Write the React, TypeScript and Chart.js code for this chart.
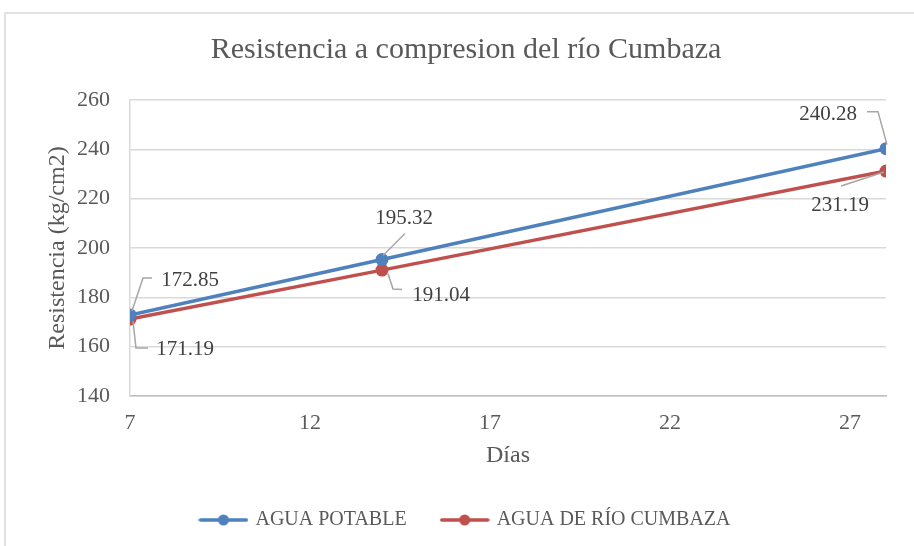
import React, { useEffect, useRef } from 'react';
import { Chart, registerables } from 'chart.js';

Chart.register(...registerables);

const days = [7, 14, 28];
const aguaPotable = [172.85, 195.32, 240.28];
const aguaRio = [171.19, 191.04, 231.19];
const xTicks = [7, 12, 17, 22, 27];
const yMin = 140;
const yMax = 260;
const yStep = 20;
const xMin = 7;
const xMax = 28;
const seriesNames = ['AGUA POTABLE', 'AGUA DE RÍO CUMBAZA'];
const chartTitle = 'Resistencia a compresion del río Cumbaza';
const xTitle = 'Días';
const yTitle = 'Resistencia (kg/cm2)';

const SERIF = "'Liberation Serif', 'Times New Roman', serif";
const BLUE = '#4F81BD';
const RED = '#C0504D';
const GRAY_TEXT = '#595959';

// data label layout (text centre offset and leader path, relative to each point)
const labelLayout = [
  [
    { dx: 60, dy: -34, path: [[2, -4], [13, -37], [22, -37]] },
    { dx: 22, dy: -41, path: [[1, -4], [23, -26]] },
    { dx: -58, dy: -34, path: [[1, -4], [-8, -37], [-19, -37]] },
  ],
  [
    { dx: 55, dy: 30, path: [[3, 2], [6, 29], [18, 29]] },
    { dx: 59, dy: 25, path: [[6, 3.5], [11, 19], [20, 19.5]] },
    { dx: -46, dy: 34, path: [[-2, 1], [-45, 15]] },
  ],
];

function makeMarker(color: string) {
  const c = document.createElement('canvas');
  c.width = 50;
  c.height = 14;
  const ctx = c.getContext('2d')!;
  ctx.strokeStyle = color;
  ctx.lineWidth = 3.5;
  ctx.lineCap = 'round';
  ctx.beginPath();
  ctx.moveTo(2, 7);
  ctx.lineTo(48, 7);
  ctx.stroke();
  ctx.fillStyle = color;
  ctx.beginPath();
  ctx.arc(25, 7, 5.5, 0, Math.PI * 2);
  ctx.fill();
  return c;
}

const framePlugin = {
  id: 'frame',
  beforeDraw(chart: any) {
    const { ctx, width, height } = chart;
    ctx.save();
    ctx.fillStyle = '#ffffff';
    ctx.fillRect(0, 0, width, height);
    ctx.strokeStyle = '#d9d9d9';
    ctx.lineWidth = 1.5;
    ctx.beginPath();
    ctx.moveTo(5, height);
    ctx.lineTo(5, 13);
    ctx.lineTo(width, 13);
    ctx.stroke();
    ctx.restore();
  },
};

const dataLabelPlugin = {
  id: 'dataLabels',
  afterDatasetsDraw(chart: any) {
    const { ctx } = chart;
    ctx.save();
    chart.data.datasets.forEach((ds: any, di: number) => {
      const meta = chart.getDatasetMeta(di);
      meta.data.forEach((pt: any, i: number) => {
        const lay = labelLayout[di][i];
        const x = pt.x;
        const y = pt.y;
        ctx.strokeStyle = '#a6a6a6';
        ctx.lineWidth = 1.5;
        ctx.beginPath();
        lay.path.forEach((p: number[], k: number) => {
          if (k === 0) ctx.moveTo(x + p[0], y + p[1]);
          else ctx.lineTo(x + p[0], y + p[1]);
        });
        ctx.stroke();
        ctx.fillStyle = '#404040';
        ctx.font = `21px ${SERIF}`;
        ctx.textAlign = 'center';
        ctx.textBaseline = 'middle';
        ctx.fillText(ds.data[i].y.toFixed(2), x + lay.dx, y + lay.dy);
      });
    });
    ctx.restore();
  },
};

export default function App() {
  const ref = useRef<HTMLCanvasElement | null>(null);

  useEffect(() => {
    document.body.style.margin = '0';
    const canvas = ref.current;
    if (!canvas) return;
    const mk = (vals: number[]) => days.map((d, i) => ({ x: d, y: vals[i] }));
    const chart = new Chart(canvas, {
      type: 'line',
      data: {
        datasets: [
          {
            label: seriesNames[0],
            data: mk(aguaPotable),
            borderColor: BLUE,
            backgroundColor: BLUE,
            borderWidth: 3.5,
            pointRadius: 6.5,
            pointBorderWidth: 0,
            pointBackgroundColor: BLUE,
            tension: 0,
          },
          {
            label: seriesNames[1],
            data: mk(aguaRio),
            borderColor: RED,
            backgroundColor: RED,
            borderWidth: 3.5,
            pointRadius: 6.5,
            pointBorderWidth: 0,
            pointBackgroundColor: RED,
            tension: 0,
          },
        ],
      },
      options: {
        responsive: false,
        animation: false,
        layout: { padding: { left: 18, right: 0, top: 0, bottom: 6 } },
        plugins: {
          title: {
            display: true,
            text: chartTitle,
            color: GRAY_TEXT,
            font: { family: SERIF, size: 30, weight: 'normal', lineHeight: 1.2 },
            padding: { top: 32, bottom: 32 },
          },
          legend: {
            position: 'bottom',
            labels: {
              usePointStyle: true,
              pointStyleWidth: 44,
              color: GRAY_TEXT,
              font: { family: SERIF, size: 20 },
              padding: 36,
              generateLabels: (c: any) => {
                const items = Chart.defaults.plugins.legend.labels.generateLabels(c);
                return items.map((it: any, i: number) => ({
                  ...it,
                  pointStyle: makeMarker(i === 0 ? BLUE : RED),
                }));
              },
            },
          },
          tooltip: { enabled: false },
        },
        scales: {
          x: {
            type: 'linear',
            min: xMin,
            max: xMax,
            afterBuildTicks: (s: any) => {
              s.ticks = xTicks.map((v) => ({ value: v }));
            },
            grid: { display: false, drawTicks: false },
            border: { display: true, color: '#bfbfbf', width: 1.5 },
            ticks: {
              padding: 14,
              color: GRAY_TEXT,
              font: { family: SERIF, size: 22 },
              maxRotation: 0,
              autoSkip: false,
            },
            title: {
              display: true,
              text: xTitle,
              color: GRAY_TEXT,
              font: { family: SERIF, size: 24, lineHeight: 1.2 },
              padding: { top: 0, bottom: 4 },
            },
            afterFit: (s: any) => {
              s.height = 78;
            },
          },
          y: {
            type: 'linear',
            min: yMin,
            max: yMax,
            ticks: {
              stepSize: yStep,
              padding: 20,
              color: GRAY_TEXT,
              font: { family: SERIF, size: 22 },
            },
            grid: { color: '#d9d9d9', lineWidth: 1.5, drawTicks: false },
            border: { display: true, color: '#d9d9d9', width: 1.5 },
            title: {
              display: true,
              text: yTitle,
              color: GRAY_TEXT,
              font: { family: SERIF, size: 24, lineHeight: 1.2 },
              padding: { top: 25, bottom: 0 },
            },
            afterFit: (s: any) => {
              s.width = 112;
            },
          },
          y2: {
            type: 'linear',
            position: 'right',
            display: true,
            grid: { display: false, drawTicks: false },
            border: { display: false },
            ticks: { display: false },
            afterFit: (s: any) => {
              s.width = 28;
            },
          },
        },
      },
      plugins: [framePlugin, dataLabelPlugin],
    } as any);
    return () => chart.destroy();
  }, []);

  return (
    <div style={{ width: 914, height: 546 }}>
      <canvas ref={ref} width={914} height={546} style={{ display: 'block' }} />
    </div>
  );
}
